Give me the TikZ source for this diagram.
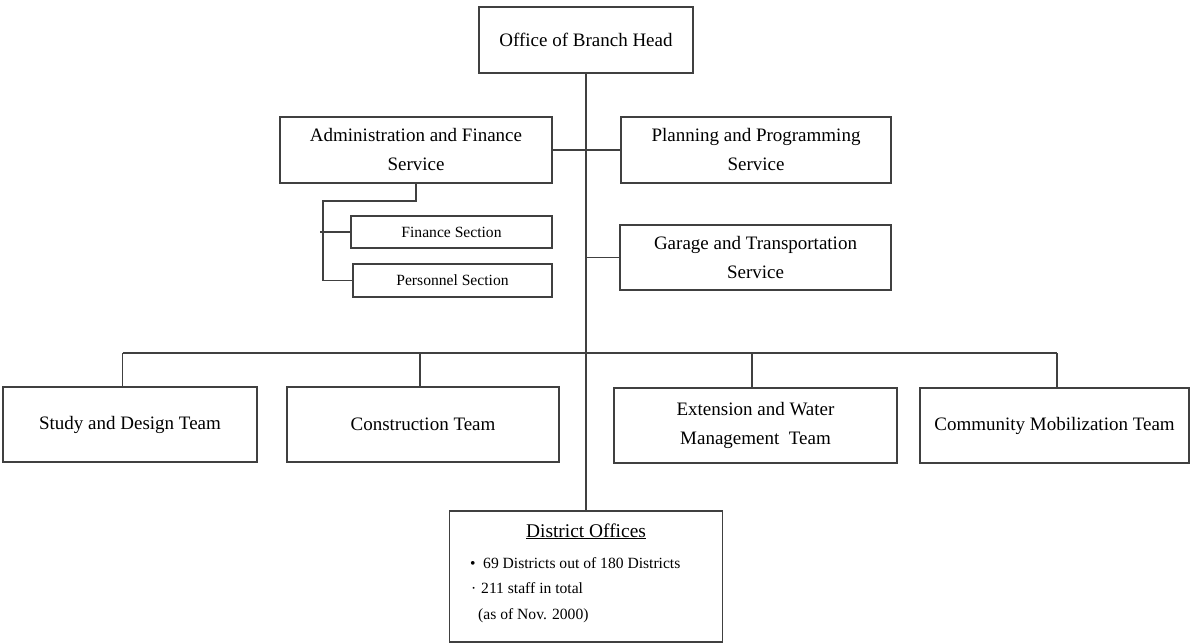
\documentclass[tikz,border=0pt]{standalone}
\usepackage{fontspec}
\setmainfont{Liberation Serif}
\usetikzlibrary{calc}
\tikzset{
  unit/.style={draw=linegray, line width=1.2pt, fill=white, inner sep=0pt,
    align=center, font=\fontsize{19}{29}\selectfont},
  subunit/.style={unit, font=\fontsize{15.6}{18}\selectfont},
  link/.style={draw=linegray, line width=1.2pt},
  plain/.style={inner sep=0pt, font=\fontsize{15.6}{18}\selectfont},
}
\definecolor{linegray}{HTML}{404040}
\begin{document}
\begin{tikzpicture}[x=1pt,y=-1pt]
\useasboundingbox (0,0) rectangle (1191,644);

% head office and services
\node[unit, minimum width=214pt, minimum height=66pt] (head) at (586,40) {Office of Branch Head};
\node[unit, minimum width=272pt, minimum height=66pt] (admin) at (416,150) {Administration and Finance\\Service};
\node[unit, minimum width=270pt, minimum height=66pt] (plan) at (756,150) {Planning and Programming\\Service};
\node[unit, minimum width=271pt, minimum height=65pt] (garage) at (755.5,257.5) {Garage and Transportation\\Service};

% sections under administration
\node[subunit, minimum width=201pt, minimum height=32pt] (fin) at (451.5,232) {Finance Section};
\node[subunit, minimum width=199pt, minimum height=33pt] (pers) at (452.5,280.5) {Personnel Section};

% teams
\node[unit, minimum width=254pt, minimum height=75pt] (study) at (130,424.5) {Study and Design Team};
\node[unit, minimum width=272pt, minimum height=75pt] (constr) at (423,424.5) {Construction Team};
\node[unit, minimum width=283pt, minimum height=75pt] (ext) at (755.5,425.5) {Extension and Water\\Management\ \ Team};
\node[unit, minimum width=269pt, minimum height=75pt] (comm) at (1054.5,425.5) {Community Mobilization Team};

% district offices
\node[unit, minimum width=273pt, minimum height=131pt] (dist) at (586,576.5) {};
\node[plain, font=\fontsize{19.4}{22}\selectfont, anchor=base] (distT) at (586,537) {\underline{District Offices}};
\node[plain, anchor=base west] (b1) at (470,568) {•};
\node[plain, anchor=base west] (t1) at (483,568) {69 Districts out of 180 Districts};
\node[plain, anchor=base west] (b2) at (471,593) {·};
\node[plain, anchor=base west] (t2) at (481,593) {211 staff in total};
\node[plain, anchor=base west] (t3) at (478,619) {(as of Nov. 2000)};

% tap points on the team bus
\coordinate (bus) at (586,353);
\coordinate (tapS) at (122.5,353);
\coordinate (tapC) at (420,353);
\coordinate (tapE) at (752,353);
\coordinate (tapM) at (1057,353);

% trunk line
\draw[link] (head.south) -- (dist.north);
\draw[link] (admin.east) -- (plan.west);
\draw[link] (garage.west) -- (garage.west -| head.south);

% team bus
\draw[link] (tapS) -- (tapM);
\draw[link] (tapS) -- (tapS |- study.north);
\draw[link] (tapC) -- (tapC |- constr.north);
\draw[link] (tapE) -- (tapE |- ext.north);
\draw[link] (tapM) -- (tapM |- comm.north);

% administration sections
\coordinate (secA) at (416,201);
\coordinate (secB) at (323,201);
\coordinate (secStub) at (320,232);
\draw[link] (admin.south) -- (secA) -- (secB) |- (pers.west);
\draw[link] (secStub) -- (fin.west);
\end{tikzpicture}
\end{document}
